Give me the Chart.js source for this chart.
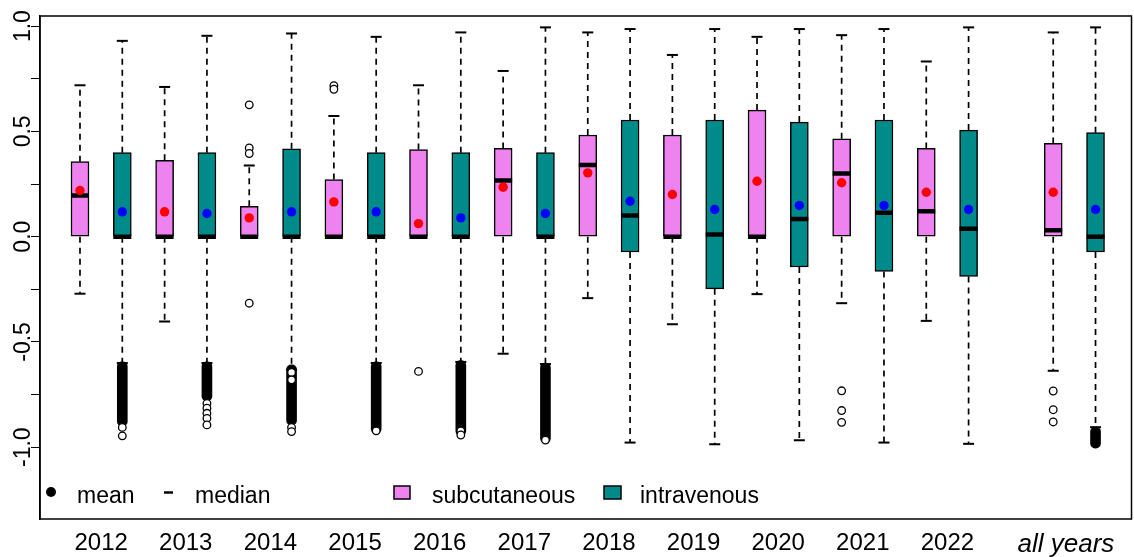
<!DOCTYPE html>
<html>
<head>
<meta charset="utf-8">
<script src="https://cdn.jsdelivr.net/npm/chart.js@4.4.1/dist/chart.umd.min.js"></script>
<style>
  html, body { margin: 0; padding: 0; background: #ffffff; overflow: hidden; }
  #wrap { width: 1134px; height: 557px; }
  canvas { display: block; }
</style>
</head>
<body>
<div id="wrap"><canvas id="c" width="1134" height="557"></canvas></div>
<script>
// ---- categories and slot positions on the x scale ----
const years = ['2012', '2013', '2014', '2015', '2016', '2017', '2018', '2019', '2020', '2021', '2022', 'all years'];
const labelSlots = [0.5, 2.5, 4.5, 6.5, 8.5, 10.5, 12.5, 14.5, 16.5, 18.5, 20.5, 23.3];
const subSlots = [0, 2, 4, 6, 8, 10, 12, 14, 16, 18, 20, 23];
const ivSlots = [1, 3, 5, 7, 9, 11, 13, 15, 17, 19, 21, 24];

// ---- y axis ticks ----
const yTicks = [-1, -0.75, -0.5, -0.25, 0, 0.25, 0.5, 0.75, 1];
const yTickLabels = ['-1.0', '-0.5', '0.0', '0.5', '1.0'];
const yLabelValues = [-1, -0.5, 0, 0.5, 1];

// ---- subcutaneous ----
const subQ1 = [0, 0, 0, 0, 0, 0, 0, 0, 0, 0, 0, 0];
const subQ3 = [0.356, 0.363, 0.144, 0.271, 0.414, 0.419, 0.483, 0.483, 0.601, 0.465, 0.419, 0.443];
const subMedian = [0.195, 0, 0, 0, 0, 0.267, 0.34, 0, 0, 0.30, 0.121, 0.03];
const subMean = [0.219, 0.118, 0.089, 0.165, 0.062, 0.235, 0.303, 0.2, 0.263, 0.256, 0.211, 0.211];
const subWhiskerHi = [0.719, 0.711, 0.338, 0.573, 0.719, 0.787, 0.97, 0.863, 0.949, 0.957, 0.832, 0.97];
const subWhiskerLo = [-0.271, -0.403, 0, 0, 0, -0.556, -0.292, -0.416, -0.273, -0.316, -0.40, -0.637];
const subOutlierYear = [2, 2, 2, 2, 3, 3, 4, 9, 9, 9, 11, 11, 11];
const subOutlierValue = [0.626, 0.421, 0.395, -0.316, 0.717, 0.70, -0.64, -0.732, -0.826, -0.882, -0.733, -0.822, -0.88];

// ---- intravenous ----
const ivQ1 = [0, 0, 0, 0, 0, 0, -0.073, -0.248, -0.144, -0.165, -0.189, -0.073];
const ivQ3 = [0.399, 0.399, 0.417, 0.399, 0.399, 0.399, 0.554, 0.554, 0.544, 0.554, 0.506, 0.494];
const ivMedian = [0, 0, 0, 0, 0, 0, 0.10, 0.01, 0.084, 0.113, 0.038, 0];
const ivMean = [0.118, 0.11, 0.118, 0.118, 0.089, 0.11, 0.168, 0.129, 0.148, 0.148, 0.129, 0.129];
const ivWhiskerHi = [0.93, 0.954, 0.965, 0.949, 0.97, 0.994, 0.986, 0.986, 0.986, 0.986, 0.994, 0.994];
const ivWhiskerLo = [-0.60, -0.60, -0.632, -0.60, -0.595, -0.605, -0.978, -0.986, -0.967, -0.978, -0.984, -0.905];
// dense runs of low outliers (overlapping circles) per year
const ivOutlierRunTop = [-0.594, -0.594, -0.609, -0.594, -0.589, -0.60, null, null, null, null, null, -0.903];
const ivOutlierRunBottom = [-0.90, -0.78, -0.895, -0.935, -0.945, -0.98, null, null, null, null, null, -1.005];
const ivOutlierYear = [0, 0, 1, 1, 1, 1, 1, 2, 2, 2, 2, 3, 4, 4, 5];
const ivOutlierValue = [-0.906, -0.946, -0.792, -0.815, -0.839, -0.863, -0.894, -0.645, -0.68, -0.906, -0.926, -0.922, -0.922, -0.942, -0.966];

const PINK = '#EE82EE';
const TEAL = '#008B8B';
const FONT = '"Liberation Sans", Arial, Helvetica, sans-serif';

Chart.defaults.font.family = FONT;
Chart.defaults.color = '#000';

const boxData = (slots, lo, hi) => slots.map((x, i) => ({ x, y: [lo[i], hi[i]] }));
const pointData = (slots, vals) => slots.map((x, i) => ({ x, y: vals[i] }));

const runData = [];
ivSlots.forEach((x, i) => {
  if (ivOutlierRunTop[i] !== null) runData.push({ x, y: [ivOutlierRunBottom[i], ivOutlierRunTop[i]] });
});

const outlierData = [
  ...subOutlierYear.map((yi, i) => ({ x: subSlots[yi], y: subOutlierValue[i] })),
  ...ivOutlierYear.map((yi, i) => ({ x: ivSlots[yi], y: ivOutlierValue[i] }))
];

// dashed whiskers with solid end caps, drawn under the boxes
const whiskerPlugin = {
  id: 'whiskers',
  beforeDatasetsDraw(chart) {
    const { ctx, scales: { x, y } } = chart;
    const groups = [
      [subSlots, subQ1, subQ3, subWhiskerLo, subWhiskerHi],
      [ivSlots, ivQ1, ivQ3, ivWhiskerLo, ivWhiskerHi]
    ];
    ctx.save();
    ctx.strokeStyle = '#000';
    groups.forEach(([slots, q1, q3, lo, hi]) => {
      slots.forEach((s, i) => {
        const px = x.getPixelForValue(s);
        const segs = [];
        if (hi[i] > q3[i]) segs.push([q3[i], hi[i]]);
        if (lo[i] < q1[i]) segs.push([q1[i], lo[i]]);
        segs.forEach(([from, to]) => {
          const y0 = y.getPixelForValue(from);
          const y1 = y.getPixelForValue(to);
          ctx.lineWidth = 1.7;
          ctx.setLineDash([6, 5]);
          ctx.beginPath();
          ctx.moveTo(px, y0);
          ctx.lineTo(px, y1);
          ctx.stroke();
          ctx.setLineDash([]);
          ctx.lineWidth = 2;
          ctx.beginPath();
          ctx.moveTo(px - 5.5, y1);
          ctx.lineTo(px + 5.5, y1);
          ctx.stroke();
        });
      });
    });
    ctx.restore();
  }
};

// plot frame, rotated y labels and the in-plot legend
const decorPlugin = {
  id: 'decor',
  afterDraw(chart) {
    const { ctx, chartArea: a, scales: { y } } = chart;
    ctx.save();
    ctx.strokeStyle = '#000';
    ctx.lineWidth = 1.5;
    ctx.strokeRect(a.left, a.top, a.right - a.left, a.bottom - a.top);

    ctx.fillStyle = '#000';
    ctx.font = '23px ' + FONT;
    ctx.textAlign = 'center';
    ctx.textBaseline = 'middle';
    yLabelValues.forEach((v, i) => {
      ctx.save();
      ctx.translate(24, y.getPixelForValue(v));
      ctx.rotate(-Math.PI / 2);
      ctx.fillText(yTickLabels[i], 0, 0);
      ctx.restore();
    });

    // legend
    const base = 503;
    ctx.textAlign = 'left';
    ctx.textBaseline = 'alphabetic';
    ctx.beginPath();
    ctx.arc(51, 492, 5, 0, Math.PI * 2);
    ctx.fill();
    ctx.fillText('mean', 77, base);
    ctx.lineWidth = 2.5;
    ctx.beginPath();
    ctx.moveTo(164, 492.5);
    ctx.lineTo(173, 492.5);
    ctx.stroke();
    ctx.fillText('median', 195, base);

    ctx.lineWidth = 1.5;
    ctx.fillStyle = PINK;
    ctx.fillRect(394, 486, 16, 13);
    ctx.strokeRect(394, 486, 16, 13);
    ctx.fillStyle = TEAL;
    ctx.fillRect(604, 486, 17, 13);
    ctx.strokeRect(604, 486, 17, 13);
    ctx.fillStyle = '#000';
    ctx.fillText('subcutaneous', 432, base);
    ctx.fillText('intravenous', 640, base);
    ctx.restore();
  }
};

new Chart(document.getElementById('c'), {
  type: 'bar',
  data: {
    datasets: [
      {
        label: 'subcutaneous',
        data: boxData(subSlots, subQ1, subQ3),
        backgroundColor: PINK, borderColor: '#000', borderWidth: 1.5,
        borderSkipped: false, barThickness: 18, grouped: false, order: 6
      },
      {
        label: 'intravenous',
        data: boxData(ivSlots, ivQ1, ivQ3),
        backgroundColor: TEAL, borderColor: '#000', borderWidth: 1.5,
        borderSkipped: false, barThickness: 18, grouped: false, order: 6
      },
      {
        label: 'outlier runs',
        data: runData,
        backgroundColor: '#000', borderWidth: 0, borderRadius: 5,
        borderSkipped: false, barThickness: 10, grouped: false, order: 5
      },
      {
        type: 'scatter', label: 'outliers',
        data: outlierData,
        pointStyle: 'circle', pointRadius: 3.8, pointBorderWidth: 1.3,
        pointBackgroundColor: '#fff', pointBorderColor: '#000', order: 4
      },
      {
        type: 'scatter', label: 'median',
        data: [...pointData(subSlots, subMedian), ...pointData(ivSlots, ivMedian)],
        pointStyle: 'line', pointRadius: 9, pointBorderWidth: 4.5,
        pointBorderColor: '#000', order: 3
      },
      {
        type: 'scatter', label: 'mean subcutaneous',
        data: pointData(subSlots, subMean),
        pointStyle: 'circle', pointRadius: 4.7, pointBorderWidth: 0,
        pointBackgroundColor: '#FF0000', order: 2
      },
      {
        type: 'scatter', label: 'mean intravenous',
        data: pointData(ivSlots, ivMean),
        pointStyle: 'circle', pointRadius: 4.7, pointBorderWidth: 0,
        pointBackgroundColor: '#0000FF', order: 1
      }
    ]
  },
  options: {
    responsive: false,
    animation: false,
    events: [],
    layout: { autoPadding: false, padding: { top: 16, right: 2.5, left: 0, bottom: 0 } },
    plugins: { legend: { display: false }, tooltip: { enabled: false } },
    scales: {
      x: {
        type: 'linear',
        offset: false,
        min: -0.945,
        max: 24.85,
        afterBuildTicks: (s) => { s.ticks = labelSlots.map(v => ({ value: v })); },
        afterFit: (s) => { s.height = 38; s.paddingLeft = 0; s.paddingRight = 0; },
        grid: { display: false, drawTicks: false, offset: false },
        border: { display: false },
        ticks: {
          autoSkip: false,
          maxRotation: 0,
          minRotation: 0,
          padding: 10,
          color: '#000',
          callback: (v, i) => years[i],
          font: (ctx) => ctx.index === years.length - 1
            ? { size: 26, style: 'italic', family: FONT }
            : { size: 24, family: FONT }
        }
      },
      y: {
        min: -1.341,
        max: 1.048,
        afterBuildTicks: (s) => { s.ticks = yTicks.map(v => ({ value: v })); },
        afterFit: (s) => { s.width = 40; },
        ticks: { display: false },
        grid: { drawOnChartArea: false, drawTicks: true, tickLength: 9, color: '#000', lineWidth: 1 },
        border: { display: true, color: '#000', width: 1.5 }
      }
    }
  },
  plugins: [whiskerPlugin, decorPlugin]
});
</script>
</body>
</html>
